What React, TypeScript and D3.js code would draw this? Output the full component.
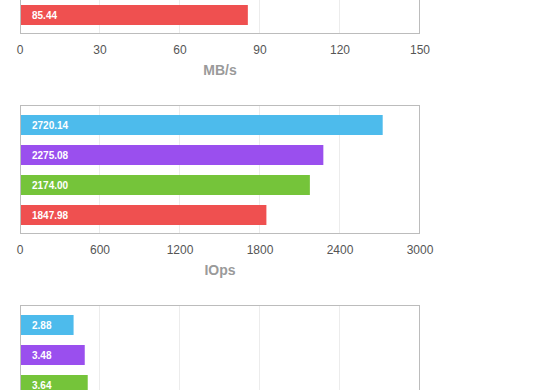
import React from "react";
import * as d3 from "d3";

// series colours, same order in every panel
const seriesColors = ["#4dbbec", "#9a4fee", "#75c43a", "#ef5050"];

// throughput panel (only the last bar is inside the view)
const mbpsValues: (number | null)[] = [null, null, null, 85.44];
const mbpsTicks = [0, 30, 60, 90, 120, 150];

// IOps panel
const iopsValues: (number | null)[] = [2720.14, 2275.08, 2174.0, 1847.98];
const iopsTicks = [0, 600, 1200, 1800, 2400, 3000];

// latency panel (axis is below the view)
const latencyValues: (number | null)[] = [2.88, 3.48, 3.64, null];
const latencyMax = 21.5;

const W = 560;
const H = 390;
const boxLeft = 20;
const boxRight = 420;
const boxH = 129;
const firstTop = -95;
const panelStep = 200;

type Panel = {
  values: (number | null)[];
  max: number;
  ticks: number[] | null;
  title: string | null;
};

const panels: Panel[] = [
  { values: mbpsValues, max: 150, ticks: mbpsTicks, title: "MB/s" },
  { values: iopsValues, max: 3000, ticks: iopsTicks, title: "IOps" },
  { values: latencyValues, max: latencyMax, ticks: null, title: null },
];

const fmt = d3.format(".2f");
const font = "'Helvetica Neue', Helvetica, 'Liberation Sans', Arial, sans-serif";

function BarPanel({ panel, top, idx }: { panel: Panel; top: number; idx: number }) {
  const x = d3.scaleLinear().domain([0, panel.max]).range([boxLeft, boxRight]);
  const y = d3
    .scaleBand<number>()
    .domain(d3.range(panel.values.length))
    .range([top + 5, top + boxH - 4])
    .paddingInner(1 / 3)
    .paddingOuter(1 / 6);
  const bottom = top + boxH;
  const grid = d3.range(1, 5).map((i) => (panel.max * i) / 5);
  const gid = `shadow${idx}`;

  return (
    <g>
      <defs>
        <radialGradient id={gid} cx="50%" cy="0%" r="50%">
          <stop offset="0%" stopColor="#000" stopOpacity={0.07} />
          <stop offset="100%" stopColor="#000" stopOpacity={0} />
        </radialGradient>
      </defs>
      <ellipse cx={(boxLeft + boxRight) / 2} cy={bottom} rx={210} ry={14} fill={`url(#${gid})`} />
      <rect x={boxLeft} y={top} width={boxRight - boxLeft} height={boxH} fill="#fff" />
      {grid.map((g) => (
        <line
          key={g}
          x1={Math.round(x(g)) - 0.5}
          x2={Math.round(x(g)) - 0.5}
          y1={top}
          y2={bottom}
          stroke="#ececec"
          strokeWidth={1}
        />
      ))}
      {panel.values.map((v, i) =>
        v == null ? null : (
          <g key={i}>
            <rect
              x={x(0)}
              y={y(i)}
              width={x(v) - x(0)}
              height={y.bandwidth()}
              fill={seriesColors[i]}
            />
            <text
              x={x(0) + 12}
              y={(y(i) as number) + y.bandwidth() / 2 + 3.5}
              fill="#fff"
              fontSize={10}
              fontWeight="bold"
              fontFamily={font}
            >
              {fmt(v)}
            </text>
          </g>
        )
      )}
      <rect
        x={boxLeft + 0.5}
        y={top + 0.5}
        width={boxRight - boxLeft - 1}
        height={boxH - 1}
        fill="none"
        stroke="#bcbcbc"
        strokeWidth={1}
      />
      {panel.ticks &&
        panel.ticks.map((t) => (
          <text
            key={t}
            x={x(t)}
            y={bottom + 20}
            textAnchor="middle"
            fill="#555"
            fontSize={12}
            fontFamily={font}
          >
            {t}
          </text>
        ))}
      {panel.title && (
        <text
          x={(boxLeft + boxRight) / 2}
          y={bottom + 41}
          textAnchor="middle"
          fill="#9a9a9a"
          fontSize={14}
          fontWeight="bold"
          fontFamily={font}
        >
          {panel.title}
        </text>
      )}
    </g>
  );
}

export default function App() {
  return (
    <div style={{ position: "absolute", left: 0, top: 0, width: W, height: H, background: "#fff" }}>
      <svg width={W} height={H} style={{ display: "block" }}>
        {panels.map((p, i) => (
          <BarPanel key={i} panel={p} top={firstTop + panelStep * i} idx={i} />
        ))}
      </svg>
    </div>
  );
}
